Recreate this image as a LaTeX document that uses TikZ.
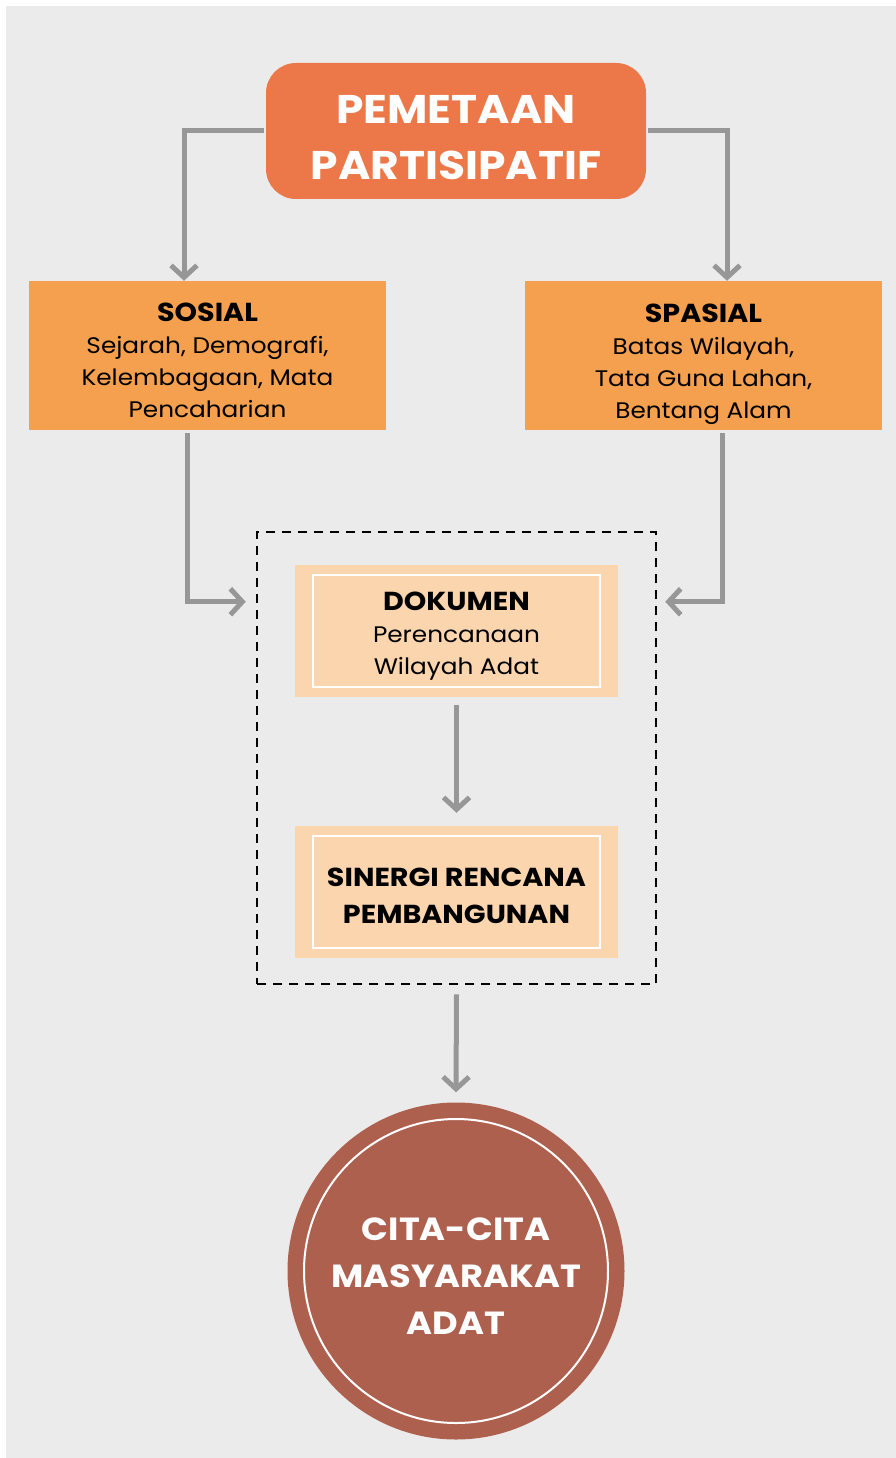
\documentclass[tikz,border=0pt]{standalone}
\usepackage{fontspec}
\setmainfont{Poppins}[FakeStretch=1.1]
\usetikzlibrary{arrows.meta}
\definecolor{bgabu}{HTML}{EBEBEB}
\definecolor{jingga}{HTML}{EC7748}
\definecolor{oranye}{HTML}{F4A04E}
\definecolor{krem}{HTML}{FAD5AE}
\definecolor{bata}{HTML}{AE604F}
\definecolor{panah}{HTML}{979797}
\begin{document}
\begin{tikzpicture}[x=1pt,y=-1pt,
    judul/.style={fill=jingga,rounded corners=30pt,minimum width=380,minimum height=136},
    kotak/.style={fill=oranye,minimum width=357,minimum height=149},
    krembox/.style={fill=krem,minimum width=323,minimum height=132},
    isi/.style={align=center,font=\fontsize{22.5}{32}\selectfont},
    tebal/.style={align=center,font=\fontsize{26}{37}\selectfont\bfseries},
    arr/.style={draw=panah,line width=5pt,-{Straight Barb[length=12pt,width=26pt]}}]
  \useasboundingbox (0,0) rectangle (896,1458);
  \fill[bgabu] (6,6) rectangle (896,1458);
  % kotak utama
  \node[judul] (peta) at (456,131) {};
  \node[tebal,text=white,font=\fontsize{40}{56}\selectfont\bfseries] (petat) at ([yshift=-7pt]peta.center) {PEMETAAN\\PARTISIPATIF};
  \node[kotak] (sos) at (207.5,355.5) {};
  \node[isi] (sost) at ([yshift=-5pt]sos.center) {{\fontsize{26}{32}\selectfont\bfseries SOSIAL}\\Sejarah, Demografi,\\Kelembagaan, Mata\\Pencaharian};
  \node[kotak] (spa) at (703.5,355.5) {};
  \node[isi] (spat) at ([yshift=-9pt]spa.center) {{\fontsize{26}{32}\selectfont\bfseries SPASIAL}\\Batas Wilayah,\\Tata Guna Lahan,\\Bentang Alam};
  \node[draw,line width=2.5pt,dash pattern=on 9pt off 7pt,minimum width=399,minimum height=452] (grup) at (456.5,758) {};
  \node[krembox] (dok) at (456.5,631) {};
  \node[isi] (dokt) at ([yshift=-5pt]dok.center) {{\fontsize{26}{32}\selectfont\bfseries DOKUMEN}\\Perencanaan\\Wilayah Adat};
  \node[krembox] (sin) at (456.5,892) {};
  \node[tebal] (sint) at ([yshift=-4pt]sin.center) {SINERGI RENCANA\\PEMBANGUNAN};
  \draw[white,line width=2.5pt] ([xshift=18pt,yshift=-10pt]dok.north west) rectangle ([xshift=-18pt,yshift=10pt]dok.south east);
  \draw[white,line width=2.5pt] ([xshift=18pt,yshift=-10pt]sin.north west) rectangle ([xshift=-18pt,yshift=10pt]sin.south east);
  \node[circle,fill=bata,minimum size=337] (cita) at (456,1271) {};
  \node[tebal,text=white,font=\fontsize{32}{47}\selectfont\bfseries] (citat) at ([yshift=-5pt]cita.center) {CITA-CITA\\MASYARAKAT\\ADAT};
  \draw[white,line width=2pt] (cita.center) circle (152pt);
  % panah
  \draw[arr] ([xshift=-2pt]peta.west) -| ([xshift=-23.5pt]sos.north);
  \draw[arr] ([xshift=2pt]peta.east) -| ([xshift=23.5pt]spa.north);
  \draw[arr] ([xshift=-20.5pt,yshift=-3pt]sos.south) |- ([xshift=-10pt,yshift=-71pt]grup.north west);
  \draw[arr] ([xshift=18.5pt,yshift=-3pt]spa.south) |- ([xshift=8pt,yshift=-71pt]grup.north east);
  \draw[arr] ([yshift=-8pt]dok.south) -- ([yshift=13pt]sin.north);
  \draw[arr] ([yshift=-9pt]grup.south) -- ([yshift=10pt]cita.north);
\end{tikzpicture}
\end{document}
